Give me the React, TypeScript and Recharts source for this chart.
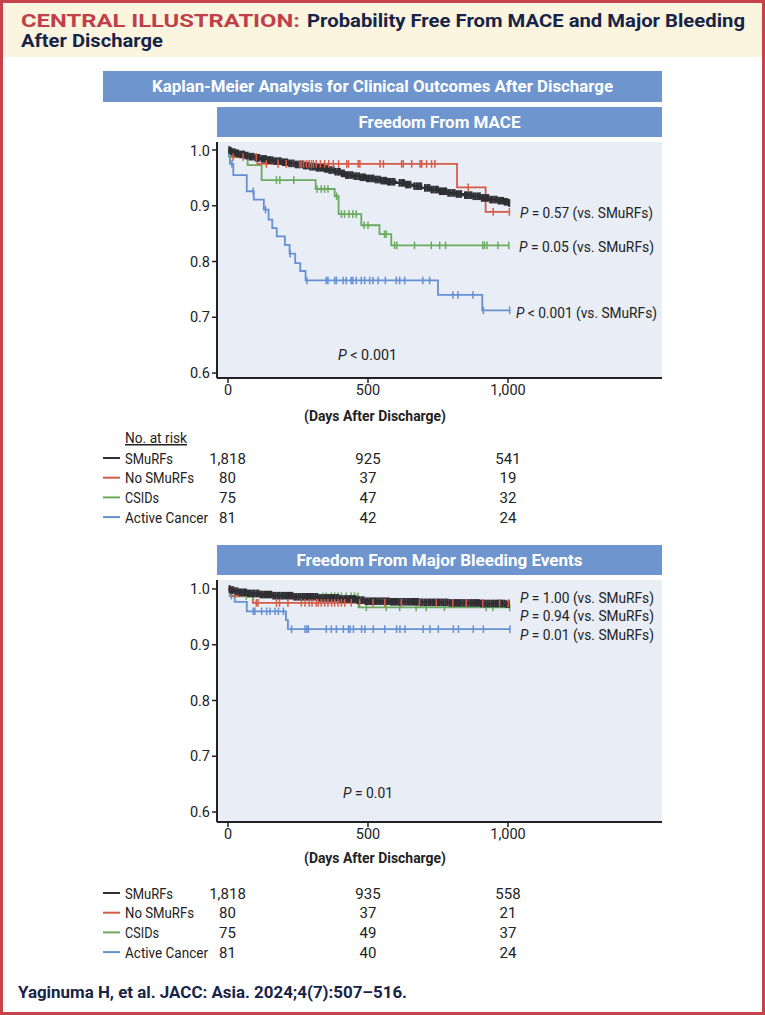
import React from 'react';
import { ComposedChart, Line, XAxis, YAxis, CartesianGrid } from 'recharts';

// ---- Freedom from MACE ----
const maceSmurfsT = [0, 6, 15, 28, 42, 58, 75, 95, 118, 140, 165, 190, 215, 240, 265, 290, 315, 340, 360, 380, 400, 420, 445, 470, 495, 520, 545, 570, 600, 630, 660, 690, 720, 750, 780, 810, 840, 870, 900, 930, 960, 985, 1000];
const maceSmurfsS = [1.0, 0.998, 0.996, 0.994, 0.992, 0.99, 0.988, 0.986, 0.984, 0.982, 0.98, 0.978, 0.976, 0.974, 0.972, 0.97, 0.968, 0.966, 0.964, 0.961, 0.958, 0.955, 0.953, 0.951, 0.949, 0.947, 0.945, 0.943, 0.941, 0.938, 0.935, 0.932, 0.929, 0.926, 0.923, 0.921, 0.919, 0.917, 0.914, 0.911, 0.909, 0.907, 0.905];
const maceSmurfsCens = [5, 11, 17, 24, 31, 36, 44, 51, 57, 63, 70, 78, 84, 91, 99, 106, 112, 121, 128, 135, 143, 150, 158, 166, 173, 181, 188, 196, 203, 211, 219, 226, 234, 242, 249, 257, 264, 272, 279, 287, 294, 302, 309, 317, 324, 332, 339, 347, 354, 362, 369, 377, 384, 392, 399, 407, 414, 422, 429, 437, 444, 452, 459, 467, 474, 482, 489, 497, 504, 512, 519, 527, 534, 542, 549, 557, 564, 572, 579, 587, 594, 613, 621, 628, 636, 643, 651, 666, 674, 681, 689, 704, 712, 719, 727, 734, 742, 749, 757, 764, 772, 779, 787, 794, 802, 809, 817, 824, 832, 847, 854, 862, 869, 877, 884, 892, 899, 907, 914, 922, 929, 937, 944, 952, 959, 967, 974, 982, 989, 997, 1004];

const maceNoSmurfsT = [0, 15, 105, 818, 920];
const maceNoSmurfsS = [1.0, 0.9875, 0.975, 0.933, 0.889];
const maceNoSmurfsCens = [18, 54, 101, 137, 179, 208, 257, 262, 270, 280, 290, 298, 305, 315, 330, 345, 360, 376, 395, 424, 430, 465, 471, 543, 555, 620, 626, 656, 686, 692, 709, 727, 739, 858, 947, 1005];

const maceCsidT = [0, 10, 70, 120, 313, 381, 395, 476, 541, 583];
const maceCsidS = [1.0, 0.987, 0.973, 0.946, 0.93, 0.917, 0.885, 0.865, 0.849, 0.829];
const maceCsidCens = [173, 185, 235, 318, 333, 345, 357, 388, 405, 416, 432, 446, 458, 486, 500, 559, 565, 595, 603, 666, 726, 756, 777, 910, 916, 925, 964, 1003];

const maceCancerT = [0, 3, 7, 19, 67, 92, 128, 145, 158, 174, 203, 220, 240, 258, 277, 750, 908];
const maceCancerS = [1.0, 0.988, 0.975, 0.955, 0.926, 0.911, 0.893, 0.875, 0.86, 0.845, 0.83, 0.814, 0.797, 0.783, 0.766, 0.74, 0.7125];
const maceCancerCens = [14, 90, 134, 222, 282, 351, 357, 381, 387, 411, 422, 440, 446, 458, 476, 488, 506, 518, 536, 562, 601, 613, 631, 696, 720, 803, 821, 875, 912, 1006];

// ---- Freedom from major bleeding ----
const bleedSmurfsT = [0, 8, 20, 40, 70, 110, 160, 230, 320, 400, 460, 490, 580, 680, 790, 900, 990];
const bleedSmurfsS = [1.0, 0.998, 0.996, 0.994, 0.992, 0.99, 0.988, 0.986, 0.984, 0.982, 0.98, 0.978, 0.977, 0.976, 0.975, 0.974, 0.973];
const bleedSmurfsCens = [6, 13, 19, 27, 34, 42, 49, 57, 64, 72, 79, 87, 94, 102, 109, 117, 124, 132, 139, 147, 154, 162, 169, 177, 184, 192, 199, 207, 214, 222, 229, 237, 244, 252, 259, 267, 274, 282, 289, 297, 304, 312, 319, 327, 334, 342, 349, 357, 364, 372, 379, 387, 394, 402, 409, 417, 424, 432, 439, 447, 454, 462, 469, 477, 484, 492, 499, 507, 514, 522, 529, 537, 544, 552, 559, 567, 574, 582, 589, 597, 604, 612, 619, 627, 634, 642, 649, 657, 664, 672, 679, 687, 694, 702, 709, 717, 724, 732, 739, 747, 754, 762, 769, 777, 784, 792, 799, 807, 814, 822, 829, 837, 844, 852, 859, 867, 874, 882, 889, 897, 904, 912, 919, 927, 934, 942, 949, 957, 964, 972, 979, 987, 994, 1003];

const bleedNoSmurfsT = [0, 12, 89];
const bleedNoSmurfsS = [1.0, 0.9875, 0.975];
const bleedNoSmurfsCens = [101, 107, 173, 184, 214, 262, 275, 290, 300, 315, 322, 333, 345, 357, 370, 381, 393, 405, 417, 440, 470, 518, 560, 619, 684, 744, 803, 851, 910, 970, 1002];

const bleedCsidT = [0, 8, 466];
const bleedCsidS = [1.0, 0.987, 0.967];
const bleedCsidCens = [65, 89, 184, 339, 351, 369, 381, 393, 405, 422, 440, 452, 464, 494, 565, 613, 672, 708, 773, 922, 946, 1006];

const bleedCancerT = [0, 6, 24, 67, 207, 214];
const bleedCancerS = [1.0, 0.988, 0.977, 0.96, 0.944, 0.928];
const bleedCancerCens = [12, 90, 96, 120, 138, 150, 168, 180, 198, 227, 275, 282, 287, 351, 369, 387, 412, 430, 436, 448, 477, 489, 519, 560, 602, 614, 632, 697, 721, 751, 805, 823, 876, 912, 1007];

// ---- risk tables ----
const groups = ['SMuRFs', 'No SMuRFs', 'CSIDs', 'Active Cancer'];
const riskDays = [0, 500, 1000];
const maceAtRisk = [
  [1818, 925, 541],
  [80, 37, 19],
  [75, 47, 32],
  [81, 42, 24],
];
const bleedAtRisk = [
  [1818, 935, 558],
  [80, 37, 21],
  [75, 49, 37],
  [81, 40, 24],
];
const maceP = ['= 0.57', '= 0.05', '< 0.001'];
const bleedP = ['= 1.00', '= 0.94', '= 0.01'];

const xTicks = [0, 500, 1000];
const yTicks = [0.6, 0.7, 0.8, 0.9, 1.0];

const COLORS = ['#2e2e33', '#d65b47', '#6aab5d', '#6590d2'];
const NAME_W = [48, 69, 34, 83];
const FONT = "Roboto, 'Noto Sans', sans-serif";
const PLOT_BG = '#e8edf6';
const BANNER = '#6e95cd';

type Pt = { t: number; s: number; c: boolean };

function buildCurve(times: number[], surv: number[], cens: number[]): Pt[] {
  const pts: Pt[] = times.map((t, i) => ({ t, s: surv[i], c: false }));
  cens.forEach(ct => {
    let s = 1;
    times.forEach((t, i) => { if (t <= ct) s = surv[i]; });
    pts.push({ t: ct, s, c: true });
  });
  pts.sort((a, b) => a.t - b.t || (a.c ? 1 : -1));
  return pts;
}

const maceCurves = [
  buildCurve(maceSmurfsT, maceSmurfsS, maceSmurfsCens),
  buildCurve(maceNoSmurfsT, maceNoSmurfsS, maceNoSmurfsCens),
  buildCurve(maceCsidT, maceCsidS, maceCsidCens),
  buildCurve(maceCancerT, maceCancerS, maceCancerCens),
];
const bleedCurves = [
  buildCurve(bleedSmurfsT, bleedSmurfsS, bleedSmurfsCens),
  buildCurve(bleedNoSmurfsT, bleedNoSmurfsS, bleedNoSmurfsCens),
  buildCurve(bleedCsidT, bleedCsidS, bleedCsidCens),
  buildCurve(bleedCancerT, bleedCancerS, bleedCancerCens),
];

const censorDot = (color: string, w: number) => (props: any) => {
  const { cx, cy, payload, index } = props;
  if (!payload || !payload.c || cx == null) return <g key={`n-${index}`} />;
  return <line key={`c-${index}`} x1={cx} x2={cx} y1={cy - 3.8} y2={cy + 3.8} stroke={color} strokeWidth={w} />;
};

// draw order: cancer, csid, smurfs, no smurfs
const ORDER = [3, 2, 0, 1];

const KMChart: React.FC<{ curves: Pt[][]; domain: [number, number]; height: number }> = ({ curves, domain, height }) => (
  <ComposedChart width={495} height={height} margin={{ top: 0, right: 0, bottom: 0, left: 0 }}>
    <CartesianGrid horizontal={false} vertical={false} fill={PLOT_BG} fillOpacity={1} stroke="none" />
    <XAxis
      type="number"
      dataKey="t"
      domain={[-39.3, 1550]}
      allowDataOverflow
      ticks={xTicks}
      tickFormatter={(v: number) => v.toLocaleString('en-US')}
      height={50}
      tickSize={5}
      axisLine={{ stroke: '#222', strokeWidth: 2 }}
      tickLine={{ stroke: '#222', strokeWidth: 1.5 }}
      tick={{ fill: '#222', fontSize: 14.5, fontFamily: FONT }}
    />
    <YAxis
      type="number"
      domain={domain}
      allowDataOverflow
      ticks={yTicks}
      tickFormatter={(v: number) => v.toFixed(1)}
      width={50}
      tickSize={5}
      axisLine={{ stroke: '#222', strokeWidth: 2 }}
      tickLine={{ stroke: '#222', strokeWidth: 1.5 }}
      tick={{ fill: '#222', fontSize: 14.5, fontFamily: FONT }}
    />
    {ORDER.map(i => (
      <Line
        key={groups[i]}
        data={curves[i]}
        dataKey="s"
        type="stepAfter"
        stroke={COLORS[i]}
        strokeWidth={i === 0 ? 2.3 : 1.8}
        dot={censorDot(COLORS[i], i === 0 ? 2.3 : 1.5)}
        activeDot={false}
        isAnimationActive={false}
      />
    ))}
  </ComposedChart>
);

const RiskTable: React.FC<{ rows: number[][]; y0: number; title?: boolean }> = ({ rows, y0, title }) => {
  const colX = [227.5, 368, 508];
  return (
    <g fontFamily={FONT} fontSize={15} fill="#222">
      {title && (
        <text x={125} y={y0 - 15} textDecoration="underline" textLength={62} lengthAdjust="spacingAndGlyphs">No. at risk</text>
      )}
      {rows.map((r, i) => (
        <g key={groups[i]}>
          <line x1={103} x2={120} y1={y0 + i * 19.7} y2={y0 + i * 19.7} stroke={COLORS[i]} strokeWidth={2} />
          <text x={125} y={y0 + i * 19.7 + 5.5} textLength={NAME_W[i]} lengthAdjust="spacingAndGlyphs">{groups[i]}</text>
          {r.map((v, j) => (
            <text key={riskDays[j]} x={colX[j]} y={y0 + i * 19.7 + 5.5} textAnchor="middle">{v.toLocaleString('en-US')}</text>
          ))}
        </g>
      ))}
    </g>
  );
};

const PText: React.FC<{ x: number; y: number; val: string; w: number; vs?: boolean }> = ({ x, y, val, w, vs }) => (
  <text x={x} y={y} fontFamily={FONT} fontSize={15} fill="#222" textLength={w} lengthAdjust="spacingAndGlyphs">
    <tspan fontStyle="italic">P</tspan> {val}{vs ? ' (vs. SMuRFs)' : ''}
  </text>
);

export default function App() {
  return (
    <div style={{ position: 'absolute', left: 0, top: 0, width: 765, height: 1015, background: '#fff', overflow: 'hidden' }}>
      <svg width={765} height={1015} style={{ position: 'absolute', left: 0, top: 0 }}>
        <rect x={3} y={3} width={759} height={54} fill="#fbf5e0" />
        <rect x={1.5} y={1.5} width={762} height={1012} fill="none" stroke="#c7434b" strokeWidth={3} />
        <g fontFamily={FONT} fontWeight={700} fontSize={18.5}>
          <text x={21} y={26.5} fill="#c0404a" textLength={279} lengthAdjust="spacingAndGlyphs">CENTRAL ILLUSTRATION:</text>
          <text x={307} y={26.5} fill="#172447" textLength={438} lengthAdjust="spacingAndGlyphs">Probability Free From MACE and Major Bleeding</text>
          <text x={21} y={46.5} fill="#172447" textLength={142} lengthAdjust="spacingAndGlyphs">After Discharge</text>
        </g>
        <rect x={103} y={71} width={559} height={31} fill={BANNER} />
        <rect x={217} y={107} width={445} height={30} fill={BANNER} />
        <rect x={217} y={545} width={445} height={30} fill={BANNER} />
        <g fontFamily={FONT} fontWeight={700} fontSize={17} fill="#fff" textAnchor="middle">
          <text x={382.5} y={92} textLength={461} lengthAdjust="spacingAndGlyphs">Kaplan-Meier Analysis for Clinical Outcomes After Discharge</text>
          <text x={439.5} y={128} textLength={162} lengthAdjust="spacingAndGlyphs">Freedom From MACE</text>
          <text x={439.5} y={566} textLength={286} lengthAdjust="spacingAndGlyphs">Freedom From Major Bleeding Events</text>
        </g>
        <g fontFamily={FONT} fontWeight={700} fontSize={14} fill="#222" textAnchor="middle">
          <text x={375} y={421} textLength={142} lengthAdjust="spacingAndGlyphs">(Days After Discharge)</text>
          <text x={375} y={863} textLength={142} lengthAdjust="spacingAndGlyphs">(Days After Discharge)</text>
        </g>
        <RiskTable rows={maceAtRisk} y0={458} title />
        <RiskTable rows={bleedAtRisk} y0={893} />
        <text x={18} y={998} fontFamily={FONT} fontWeight={700} fontSize={16} fill="#172447" textLength={389} lengthAdjust="spacingAndGlyphs">Yaginuma H, et al. JACC: Asia. 2024;4(7):507–516.</text>
      </svg>
      <div style={{ position: 'absolute', left: 167, top: 142 }}>
        <KMChart curves={maceCurves} domain={[0.5911, 1.0143]} height={286} />
      </div>
      <div style={{ position: 'absolute', left: 167, top: 580 }}>
        <KMChart curves={bleedCurves} domain={[0.5821, 1.0161]} height={292} />
      </div>
      <svg width={765} height={1015} style={{ position: 'absolute', left: 0, top: 0, pointerEvents: 'none' }}>
        <PText x={520} y={218} w={133} val={maceP[0]} vs />
        <PText x={519} y={252} w={135} val={maceP[1]} vs />
        <PText x={516} y={318} w={141} val={maceP[2]} vs />
        <PText x={338} y={360} w={59} val="< 0.001" />
        <PText x={520} y={603} w={134} val={bleedP[0]} vs />
        <PText x={520} y={621} w={134} val={bleedP[1]} vs />
        <PText x={520} y={640} w={134} val={bleedP[2]} vs />
        <PText x={343} y={798} w={50} val="= 0.01" />
      </svg>
    </div>
  );
}
